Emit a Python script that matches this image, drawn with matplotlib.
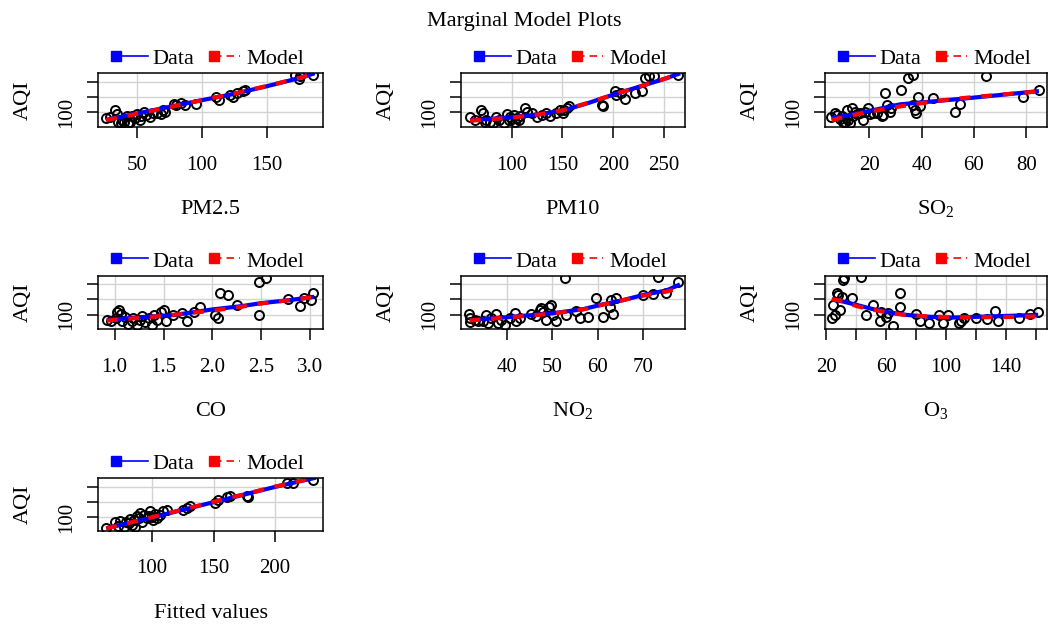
import matplotlib
matplotlib.use('Agg')
import matplotlib.pyplot as plt

plt.rcParams['font.family'] = ['Liberation Serif', 'DejaVu Serif']
plt.rcParams['mathtext.fontset'] = 'custom'
plt.rcParams['mathtext.rm'] = 'Liberation Serif'
plt.rcParams['mathtext.default'] = 'rm'

# ---- data ----
pm25 = [26, 29, 33, 34, 35, 37, 38, 40, 42, 43, 44, 46, 48, 50, 52, 53, 55, 57, 60, 62,
        65, 68, 70, 71, 78, 80, 84, 87, 95, 111, 113, 122, 124, 127, 132, 133, 172, 175, 176, 186]
aqi_pm25 = [80, 83, 108, 94, 69, 63, 74, 66, 86, 63, 69, 88, 80, 94, 74, 86, 102, 91, 83, 97,
            99, 94, 106, 102, 128, 124, 132, 124, 128, 150, 141, 158, 150, 163, 169, 174, 224, 210, 220, 223]
pm25_grid = [26, 50, 75, 100, 125, 150, 175, 187]
pm25_data = [75, 96, 118, 140, 161, 186, 213, 229]
pm25_model = [74, 95, 117, 140, 162, 187, 213, 228]

pm10 = [59, 64, 70, 72, 74, 75, 79, 82, 85, 88, 92, 95, 97, 98, 100, 102, 103, 105, 107, 108,
        113, 115, 120, 125, 130, 134, 138, 144, 148, 151, 152, 154, 156, 189, 190, 202, 203, 208,
        212, 221, 228, 231, 235, 240, 264]
aqi_pm10 = [83, 74, 108, 99, 69, 74, 66, 63, 83, 74, 63, 94, 74, 83, 77, 91, 69, 80, 74, 88,
            113, 102, 97, 83, 91, 97, 88, 99, 106, 97, 108, 113, 121, 124, 119, 169, 158, 163,
            143, 163, 169, 213, 219, 221, 224]
pm10_grid = [59, 100, 125, 150, 175, 200, 225, 250, 266]
pm10_data = [73, 83, 92, 105, 130, 158, 184, 210, 229]
pm10_model = [72, 82, 92, 106, 131, 158, 184, 210, 228]

so2 = [5.3, 6.9, 7.5, 8.8, 9.5, 10.1, 10.7, 11.4, 12.0, 12.6, 13.3, 13.9, 14.5, 15.2, 16.4,
       17.5, 18.3, 19.6, 20.3, 21.5, 22.8, 24.7, 25.3, 26.0, 26.6, 27.9, 28.5, 32.3, 34.9, 36.8,
       36.8, 37.4, 38.0, 38.7, 39.3, 44.4, 52.7, 54.6, 64.7, 78.7, 84.8]
aqi_so2 = [83, 99, 91, 77, 88, 66, 69, 108, 74, 63, 113, 86, 102, 94, 99, 74, 102, 113, 94, 99,
           97, 86, 91, 163, 124, 102, 113, 172, 213, 224, 124, 108, 99, 152, 119, 147, 102, 128,
           219, 152, 172]
so2_grid = [5.6, 12.6, 20, 31.7, 44.4, 57.1, 69.8, 84.8]
so2_data = [80, 91, 104, 126, 136, 146, 157, 170]
so2_model = [74, 88, 102, 119, 136, 148, 158, 169]

co = [0.92, 0.96, 1.01, 1.02, 1.04, 1.06, 1.08, 1.11, 1.14, 1.18, 1.19, 1.23, 1.26, 1.28, 1.31,
      1.35, 1.38, 1.40, 1.43, 1.47, 1.50, 1.53, 1.60, 1.69, 1.74, 1.81, 1.87, 2.03, 2.06, 2.08,
      2.16, 2.25, 2.48, 2.48, 2.55, 2.77, 2.89, 2.94, 3.01, 3.03]
aqi_co = [82, 80, 88, 110, 115, 102, 77, 93, 69, 77, 88, 66, 82, 96, 74, 88, 66, 99, 82, 107,
          115, 77, 99, 104, 77, 110, 126, 99, 88, 170, 165, 132, 99, 209, 220, 151, 129, 154, 148, 170]
co_grid = [0.92, 1.26, 1.6, 2.0, 2.3, 2.48, 2.79, 3.04]
co_data = [82, 91, 98, 117, 128, 137, 148, 159]
co_model = [80, 89, 99, 113, 126, 136, 148, 158]

no2 = [31.6, 31.8, 31.9, 32.9, 33.6, 34.7, 35.4, 35.8, 36.5, 37.6, 38.0, 38.8, 39.5, 40.6, 41.7,
       42.1, 42.8, 45.4, 46.5, 47.2, 47.6, 47.9, 48.7, 49.3, 49.8, 50.1, 50.9, 52.7, 53.1, 55.3,
       56.0, 57.9, 59.7, 61.2, 62.6, 63.0, 63.4, 64.1, 70.0, 72.2, 73.3, 75.1, 77.7]
aqi_no2 = [102, 74, 88, 82, 77, 77, 99, 71, 88, 102, 71, 82, 66, 88, 104, 77, 88, 102, 96, 115,
           121, 110, 82, 126, 132, 99, 77, 220, 99, 113, 88, 93, 154, 93, 126, 148, 102, 154,
           165, 168, 225, 170, 207]
no2_grid = [31.8, 40, 50, 56.8, 61.2, 65.6, 70, 75.1, 78.1]
no2_data = [82, 91, 104, 118, 134, 148, 165, 180, 200]
no2_model = [80, 90, 103, 117, 133, 148, 163, 176, 188]

o3 = [23.8, 24.9, 26.0, 27.1, 28.2, 29.3, 30.4, 31.0, 31.9, 37.0, 43.6, 46.9, 51.3, 55.8, 56.9,
      60.2, 61.3, 64.6, 69.0, 69.0, 80.0, 82.3, 88.4, 95.5, 97.7, 101.0, 108.7, 109.8, 112.1,
      119.8, 127.5, 132.6, 134.8, 148.5, 156.2, 161.3]
aqi_o3 = [88, 132, 99, 170, 165, 115, 159, 214, 220, 154, 225, 99, 132, 77, 110, 93, 104, 63,
          170, 126, 102, 77, 71, 99, 71, 99, 71, 77, 88, 88, 85, 113, 80, 88, 102, 107]
o3_grid = [23.8, 31.5, 40.3, 51.3, 62.4, 73.4, 86.7, 104.3, 124.2, 144, 161.3]
o3_data = [150, 143, 132, 118, 107, 99, 93, 90, 93, 96, 99]
o3_model = [151, 144, 128, 116, 105, 98, 94, 91, 91, 92, 94]

fitted = [63.1, 70.4, 72.2, 74.4, 77.1, 79.2, 81.1, 82.5, 83.8, 85.2, 86.5, 87.9, 89.2, 90.6,
          91.9, 93.3, 96.0, 97.3, 98.7, 100.0, 101.3, 102.7, 104.0, 106.7, 109.4, 112.1, 125.6,
          128.3, 131.0, 151.2, 153.9, 160.6, 163.3, 176.8, 178.2, 209.2, 214.6, 230.7]
aqi_fitted = [64, 83, 72, 89, 67, 86, 80, 94, 75, 91, 67, 104, 97, 113, 86, 108, 97, 104, 119,
              102, 91, 111, 97, 108, 119, 122, 124, 129, 135, 146, 157, 165, 170, 170, 165, 213,
              211, 222]
fitted_grid = [63, 100, 150, 200, 233]
fitted_data = [64, 99, 149, 199, 229]
fitted_model = [63, 100, 150, 200, 230]

panels = [
    ('PM2.5', pm25, aqi_pm25, pm25_grid, pm25_data, pm25_model,
     (19.6, 193.5), [50, 100, 150], ['50', '100', '150']),
    ('PM10', pm10, aqi_pm10, pm10_grid, pm10_data, pm10_model,
     (50.1, 270.7), [100, 150, 200, 250], ['100', '150', '200', '250']),
    ('SO$_2$', so2, aqi_so2, so2_grid, so2_data, so2_model,
     (3.1, 87.9), [20, 40, 60, 80], ['20', '40', '60', '80']),
    ('CO', co, aqi_co, co_grid, co_data, co_model,
     (0.83, 3.13), [1.0, 1.5, 2.0, 2.5, 3.0], ['1.0', '1.5', '2.0', '2.5', '3.0']),
    ('NO$_2$', no2, aqi_no2, no2_grid, no2_data, no2_model,
     (29.9, 79.2), [40, 50, 60, 70], ['40', '50', '60', '70']),
    ('O$_3$', o3, aqi_o3, o3_grid, o3_data, o3_model,
     (19.3, 167.2), [20, 40, 60, 80, 100, 120, 140, 160],
     ['20', '', '60', '', '100', '', '140', '']),
    ('Fitted values', fitted, aqi_fitted, fitted_grid, fitted_data, fitted_model,
     (56.3, 238.8), [100, 150, 200], ['100', '150', '200']),
]

# ---- layout in pixels ----
W, H = 1049, 624
col_left = [98, 461, 825]
col_width = [225, 224, 222]
row_top = [73, 275.7, 478.3]
row_height = [54, 53.6, 52.4]
row_ylim = [(51, 230), (51, 229), (56, 227)]

fig = plt.figure(figsize=(W / 100, H / 100), dpi=100)
fig.text(0.5, 1 - 26 / H, 'Marginal Model Plots', ha='center', va='baseline', fontsize=16)


def draw_legend(ax, bw, bh):
    ys = 1 + 17.3 / bh
    yt = 1 + 9 / bh
    kw = dict(transform=ax.transAxes, clip_on=False)
    ax.plot([18.2 / bw, 50.3 / bw], [ys, ys], color='blue', lw=1.2, **kw)
    ax.plot([18.2 / bw], [ys], marker='s', ms=7, color='blue', **kw)
    ax.text(54.7 / bw, yt, 'Data', fontsize=16, va='baseline', transform=ax.transAxes)
    ax.plot([115.8 / bw, 142 / bw], [ys, ys], color='red', lw=1.2, dashes=(4.5, 3), **kw)
    ax.plot([115.8 / bw], [ys], marker='s', ms=7, color='red', **kw)
    ax.text(148 / bw, yt, 'Model', fontsize=16, va='baseline', transform=ax.transAxes)


for i, (label, x, y, gx, gd, gm, xlim, xticks, xlabels) in enumerate(panels):
    r, c = divmod(i, 3)
    bw, bh = col_width[c], row_height[r]
    ax = fig.add_axes([col_left[c] / W, 1 - (row_top[r] + bh) / H, bw / W, bh / H])
    ax.set_axisbelow(True)
    ax.grid(True, color='#d3d3d3', lw=1.0)
    ax.plot(x, y, 'o', mfc='none', mec='black', ms=6.5, mew=1.4)
    ax.plot(gx, gd, color='blue', lw=3.0, solid_capstyle='butt')
    ax.plot(gx, gm, color='red', lw=3.0, dashes=(2.6, 2.6), dash_capstyle='butt')
    ax.set_xlim(*xlim)
    ax.set_ylim(*row_ylim[r])
    ax.set_xticks(xticks, xlabels)
    ax.set_yticks([100, 150, 200], ['100', '', ''], rotation=90, va='center')
    ax.tick_params(axis='both', direction='out', length=7.9, width=1.1, labelsize=15)
    ax.tick_params(axis='x', pad=12.8)
    ax.tick_params(axis='y', pad=7.8)
    for s in ax.spines.values():
        s.set_linewidth(1.1)
    ax.set_xlabel(label, fontsize=16, va='baseline')
    ax.xaxis.set_label_coords(0.5, -87 / bh)
    ax.text(-70 / bw, 0.5, 'AQI', fontsize=16, rotation=90, rotation_mode='anchor',
            ha='center', va='baseline', transform=ax.transAxes)
    draw_legend(ax, bw, bh)

fig.savefig('out.png', dpi=100)
